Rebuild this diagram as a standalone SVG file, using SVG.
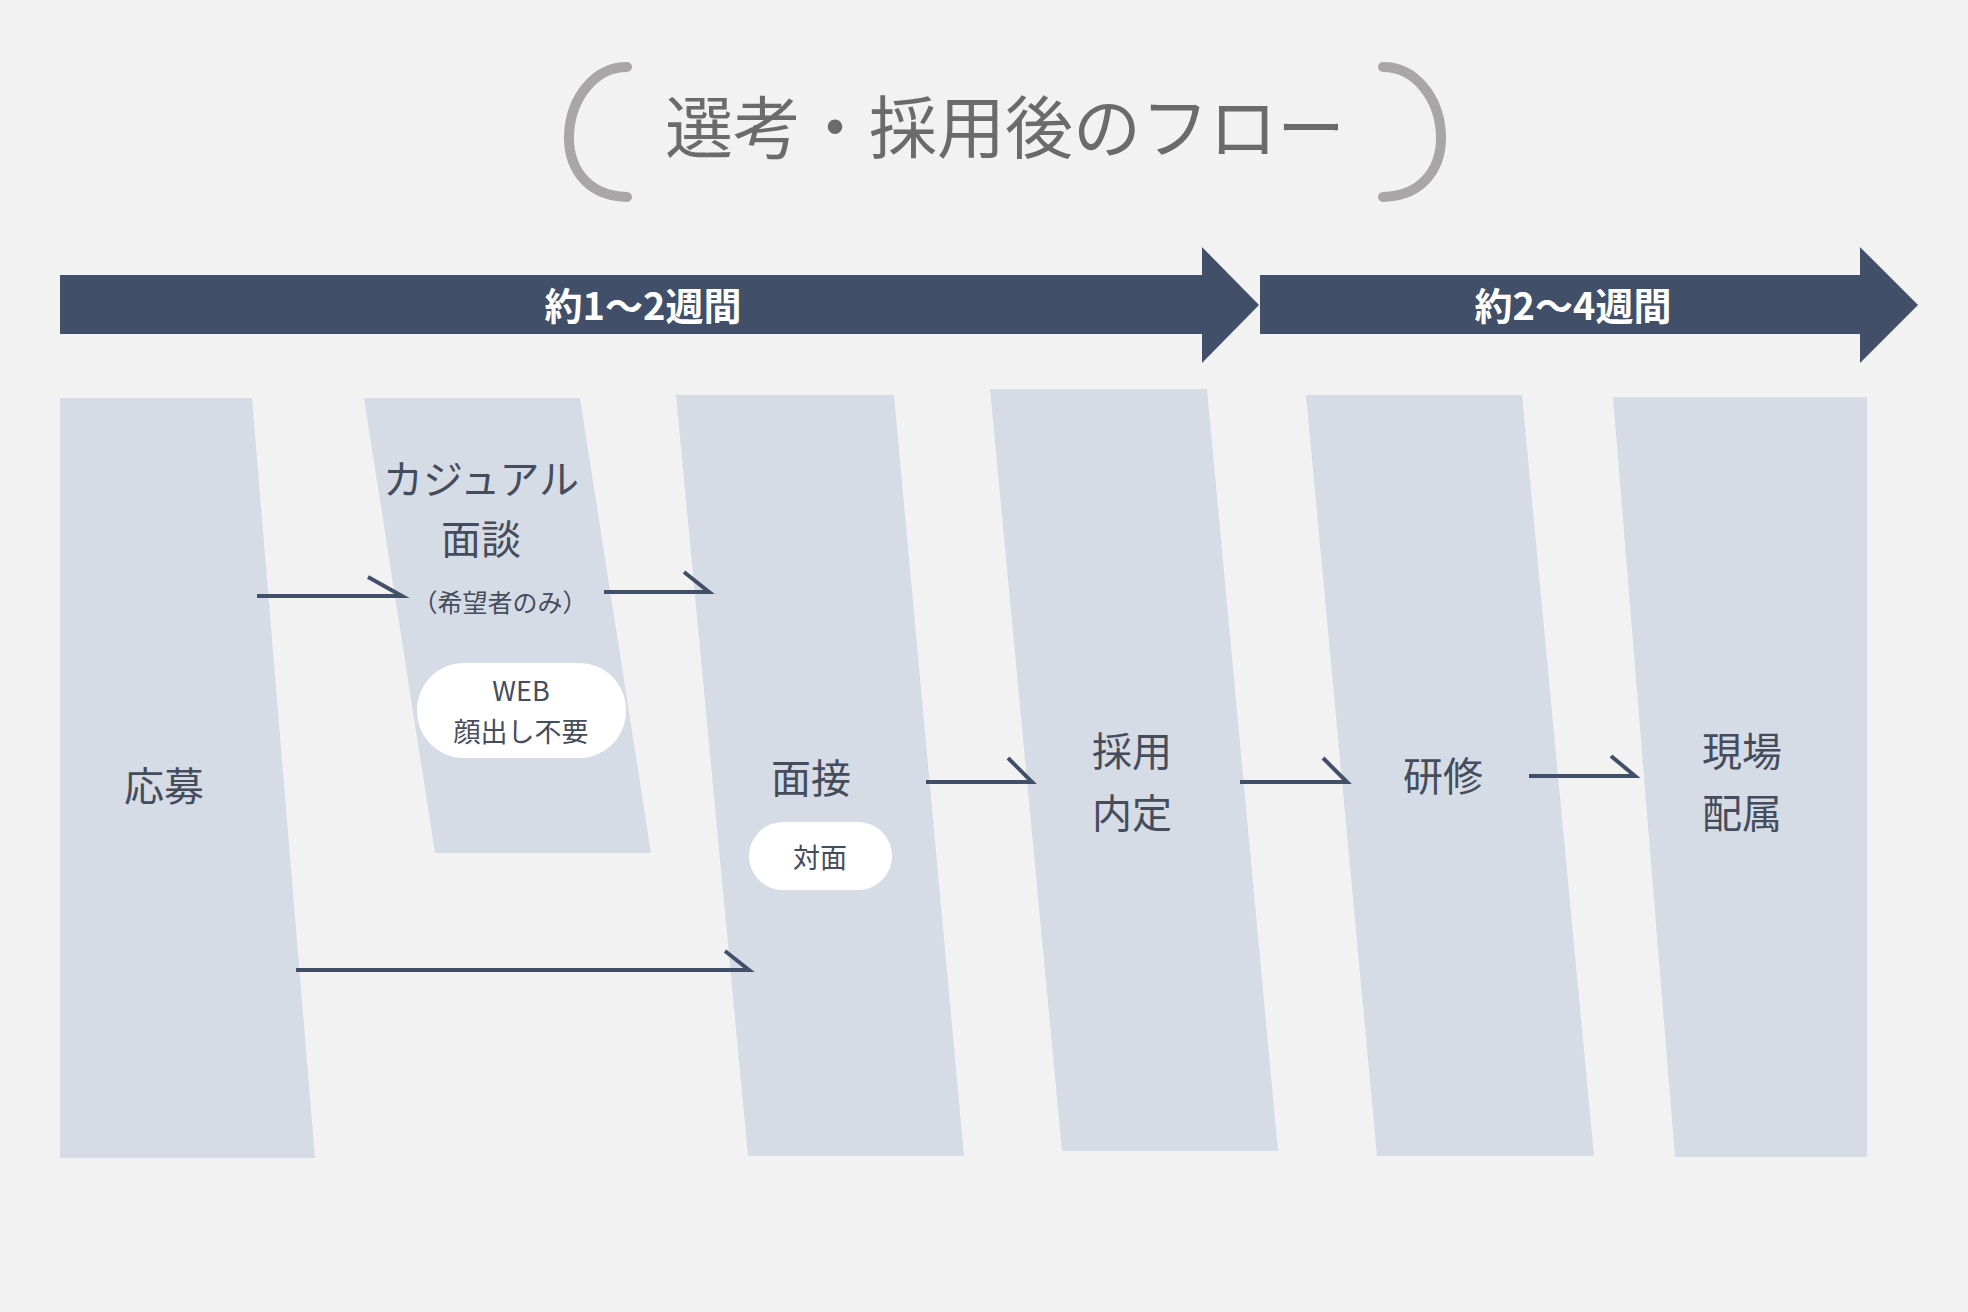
<svg xmlns="http://www.w3.org/2000/svg" width="1968" height="1312" viewBox="0 0 1968 1312">
<style>
.col{fill:#d6dce6}
.t{font-family:"Noto Sans CJK JP","Liberation Sans",sans-serif;fill:#454c5c;text-anchor:middle;dominant-baseline:central}
.l{font-size:40px}
.w{fill:#fff;font-size:38px;font-weight:bold}
.ar{fill:none;stroke:#414f68;stroke-width:4}
.pill{fill:#fff}
</style>
<rect width="1968" height="1312" fill="#f2f2f2"/>
<g id="title">
<path d="M627,67 C560,67 540,195 627,197" fill="none" stroke="#a8a6a6" stroke-width="10" stroke-linecap="round"/>
<path d="M1383,67 C1450,67 1470,195 1383,197" fill="none" stroke="#a8a6a6" stroke-width="10" stroke-linecap="round"/>
<text class="t" x="1005" y="123" font-size="68" fill="#6b6b6b" style="fill:#6b6b6b">選考・採用後のフロー</text>
</g>
<g id="bar1"><path d="M60,275 H1202 V247 L1259,305 L1202,363 V334 H60 Z" fill="#414f68"/><text class="t w" x="643" y="303">約1〜2週間</text></g>
<g id="bar2"><path d="M1260,275 H1860 V247 L1918,305 L1860,363 V334 H1260 Z" fill="#414f68"/><text class="t w" x="1573" y="303">約2〜4週間</text></g>
<g id="n1"><polygon class="col" points="60,398 252,398 315,1158 60,1158"/><text class="t l" x="164" y="784">応募</text></g>
<g id="n2"><polygon class="col" points="364,398 580,398 651,853 435,853"/>
<text class="t l" x="481" y="477">カジュアル</text><text class="t l" x="481" y="537">面談</text>
<text class="t" x="500" y="601" font-size="25">（希望者のみ）</text>
<rect class="pill" x="417" y="663" width="209" height="95" rx="47"/>
<text class="t" x="521" y="689" font-size="27">WEB</text><text class="t" x="521" y="730" font-size="27">顔出し不要</text></g>
<g id="n3"><polygon class="col" points="676,395 894,395 964,1156 748,1156"/><text class="t l" x="811" y="776">面接</text>
<rect class="pill" x="749" y="822" width="143" height="68" rx="34"/><text class="t" x="820" y="856" font-size="27">対面</text></g>
<g id="n4"><polygon class="col" points="990,389 1207,389 1278,1151 1062,1151"/><text class="t l" x="1132" y="749">採用</text><text class="t l" x="1132" y="811">内定</text></g>
<g id="n5"><polygon class="col" points="1306,395 1522,395 1594,1156 1377,1156"/><text class="t l" x="1443" y="774">研修</text></g>
<g id="n6"><polygon class="col" points="1613,397 1867,397 1867,1157 1675,1157"/><text class="t l" x="1742" y="749">現場</text><text class="t l" x="1742" y="811">配属</text></g>
<g id="connectors">
<path class="ar" d="M257,596 H402 L368,577"/>
<path class="ar" d="M604,592 H709 L684,572"/>
<path class="ar" d="M296,970 H749 L725,951"/>
<path class="ar" d="M926,782 H1032 L1008,758"/>
<path class="ar" d="M1240,782 H1347 L1323,758"/>
<path class="ar" d="M1529,776 H1635 L1611,756"/>
</g>
</svg>
